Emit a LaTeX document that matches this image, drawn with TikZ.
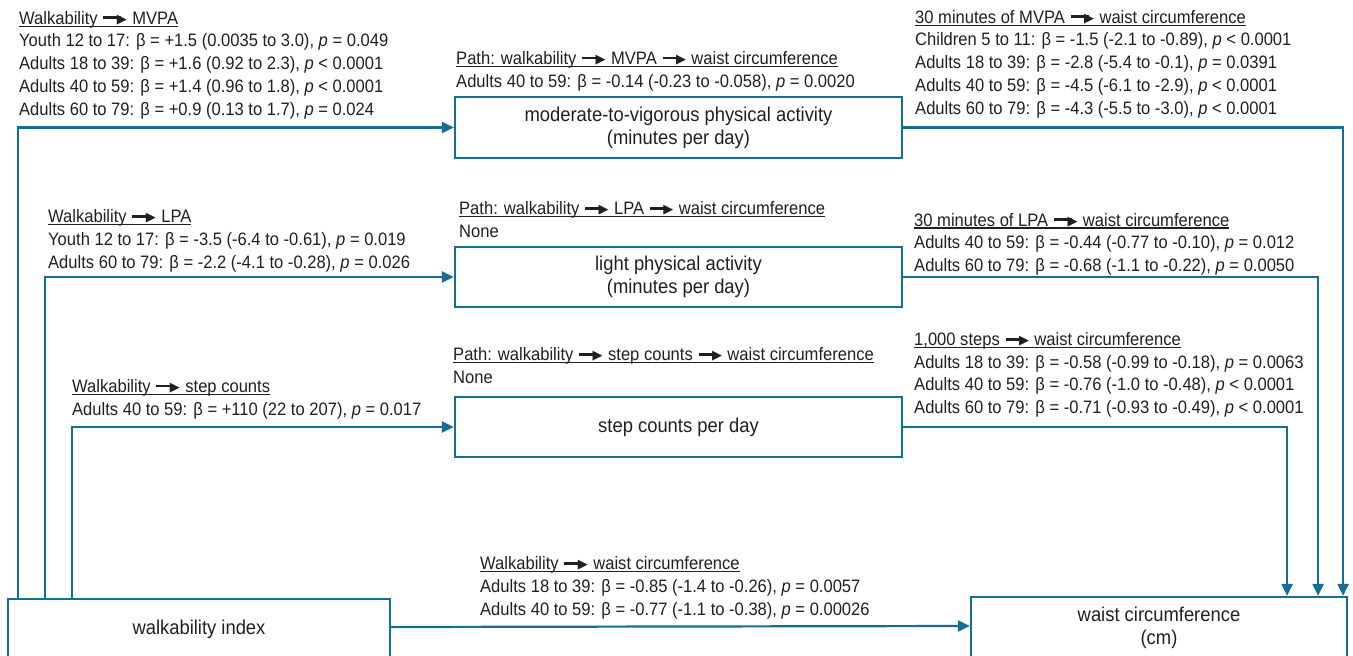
\documentclass[tikz,border=0pt]{standalone}
\usepackage{fontspec}
\setmainfont{Liberation Sans}[FakeStretch=0.92]
\newfontfamily\dejavu{DejaVu Sans}
\usetikzlibrary{arrows.meta}
\definecolor{lineblue}{RGB}{22,110,150}
\definecolor{ink}{RGB}{35,31,32}
\newsavebox\ulbox
\newcommand\ultext[1]{\sbox\ulbox{#1}\rlap{\rule[-2.4pt]{\wd\ulbox}{1.1pt}}\usebox\ulbox}
\newcommand\myarr{\hspace{0.32em}\rule[0.27em]{1.0em}{0.16em}\kern-0.25em\raisebox{0.06em}{\dejavu\fontsize{13}{13}\selectfont ▶}\hspace{0.3em}}
\begin{document}
\begin{tikzpicture}[x=1pt,y=-1pt,
  txt/.style={anchor=base west,align=left,inner sep=0pt,text=ink,font=\fontsize{18}{22.7}\selectfont},
  box/.style={draw=lineblue,line width=2.2pt,fill=white,align=center,inner sep=0pt,text=ink,font=\fontsize{20}{23}\selectfont},
  conn/.style={draw=lineblue,line width=2.2pt,-{Triangle[length=12pt,width=11pt]}}]
\useasboundingbox (0,0) rectangle (1353,656);
\fill[white] (0,0) rectangle (1353,656);
% boxes
\node[box,minimum width=447pt,minimum height=61pt] (mvpa) at (678.5,127.5) {moderate-to-vigorous physical activity\\(minutes per day)};
\node[box,minimum width=447pt,minimum height=60pt] (lpa) at (678.5,277) {light physical activity\\(minutes per day)};
\node[box,minimum width=447pt,minimum height=60pt] (step) at (678.5,427) {step counts per day};
\node[box,minimum width=382pt,minimum height=60pt] (walk) at (199,629) {walkability index};
\node[box,minimum width=376pt,minimum height=62pt] (waist) at (1159,628) {waist circumference\\(cm)};
% connectors
\draw[conn] ([xshift=11pt]walk.north west) |- (mvpa.west);
\draw[conn] ([xshift=38pt]walk.north west) |- (lpa.west);
\draw[conn] ([xshift=65pt]walk.north west) |- (step.west);
\draw[conn] ([yshift=2pt]walk.east) -- ([yshift=2pt]waist.west);
\draw[conn] (mvpa.east) -| ([xshift=-5pt]waist.north east);
\draw[conn] (lpa.east) -| ([xshift=-30pt]waist.north east);
\draw[conn] (step.east) -| ([xshift=-61pt]waist.north east);
% labels (anchored at the baseline of the last line)
\node[txt] (t1) at (19,115) {\ultext{Walkability\myarr MVPA}\\
Youth 12 to 17: β = +1.5 (0.0035 to 3.0), \textit{p} = 0.049\\
Adults 18 to 39: β = +1.6 (0.92 to 2.3), \textit{p} < 0.0001\\
Adults 40 to 59: β = +1.4 (0.96 to 1.8), \textit{p} < 0.0001\\
Adults 60 to 79: β = +0.9 (0.13 to 1.7), \textit{p} = 0.024};
\node[txt] (t2) at (456,87) {\ultext{Path: walkability\myarr MVPA\myarr waist circumference}\\
Adults 40 to 59: β = -0.14 (-0.23 to -0.058), \textit{p} = 0.0020};
\node[txt] (t3) at (915,114) {\ultext{30 minutes of MVPA\myarr waist circumference}\\
Children 5 to 11: β = -1.5 (-2.1 to -0.89), \textit{p} < 0.0001\\
Adults 18 to 39: β = -2.8 (-5.4 to -0.1), \textit{p} = 0.0391\\
Adults 40 to 59: β = -4.5 (-6.1 to -2.9), \textit{p} < 0.0001\\
Adults 60 to 79: β = -4.3 (-5.5 to -3.0), \textit{p} < 0.0001};
\node[txt] (t4) at (48,268) {\ultext{Walkability\myarr LPA}\\
Youth 12 to 17: β = -3.5 (-6.4 to -0.61), \textit{p} = 0.019\\
Adults 60 to 79: β = -2.2 (-4.1 to -0.28), \textit{p} = 0.026};
\node[txt] (t5) at (459,237.5) {\ultext{Path: walkability\myarr LPA\myarr waist circumference}\\
None};
\node[txt] (t6) at (914,271.5) {\ultext{30 minutes of LPA\myarr waist circumference}\\
Adults 40 to 59: β = -0.44 (-0.77 to -0.10), \textit{p} = 0.012\\
Adults 60 to 79: β = -0.68 (-1.1 to -0.22), \textit{p} = 0.0050};
\node[txt] (t7) at (72,415) {\ultext{Walkability\myarr step counts}\\
Adults 40 to 59: β = +110 (22 to 207), \textit{p} = 0.017};
\node[txt] (t8) at (453,383.5) {\ultext{Path: walkability\myarr step counts\myarr waist circumference}\\
None};
\node[txt] (t9) at (914,413.5) {\ultext{1,000 steps\myarr waist circumference}\\
Adults 18 to 39: β = -0.58 (-0.99 to -0.18), \textit{p} = 0.0063\\
Adults 40 to 59: β = -0.76 (-1.0 to -0.48), \textit{p} < 0.0001\\
Adults 60 to 79: β = -0.71 (-0.93 to -0.49), \textit{p} < 0.0001};
\node[txt] (t10) at (480,615) {\ultext{Walkability\myarr waist circumference}\\
Adults 18 to 39: β = -0.85 (-1.4 to -0.26), \textit{p} = 0.0057\\
Adults 40 to 59: β = -0.77 (-1.1 to -0.38), \textit{p} = 0.00026};
\end{tikzpicture}
\end{document}
